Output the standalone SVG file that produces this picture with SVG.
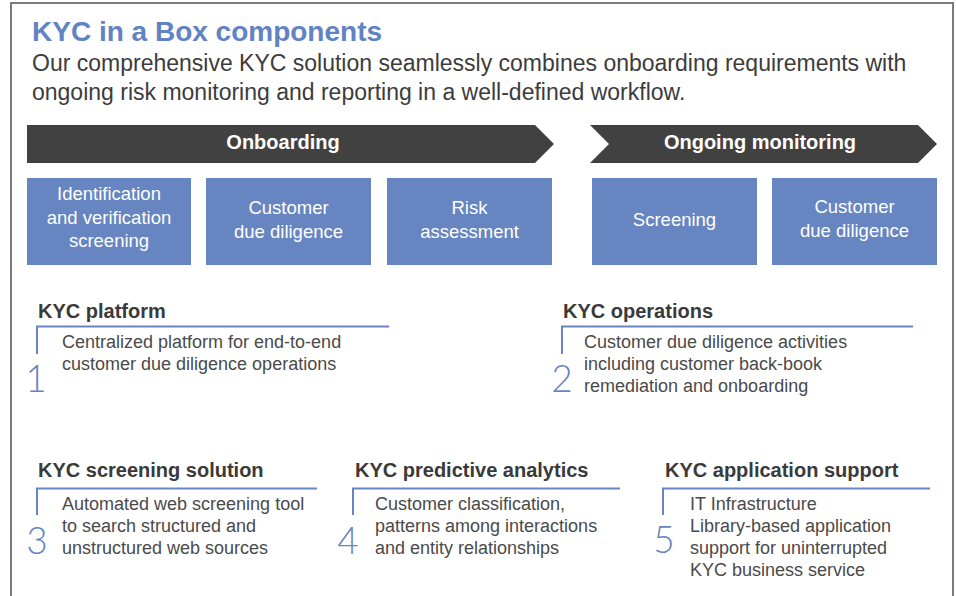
<svg xmlns="http://www.w3.org/2000/svg" width="956" height="596" viewBox="0 0 956 596">
<style>
text{font-family:"Liberation Sans",Arial,Helvetica,sans-serif}
.title{font-size:28px;font-weight:bold;fill:#6283c3}
.sub{font-size:23px;fill:#3c3c3c}
.chev{fill:#414141}
.chevt{font-size:20px;font-weight:bold;fill:#ffffff;text-anchor:middle}
.box{fill:#6685c1}
.boxt{font-size:18.5px;fill:#ffffff;text-anchor:middle}
.head{font-size:20px;font-weight:bold;fill:#3a3a3a}
.body{font-size:18px;fill:#4a4a4a}
.num{font-family:Lato,"Liberation Sans",Arial,sans-serif;font-weight:300;font-size:37px;fill:#6685c1;text-anchor:middle}
.br{fill:none;stroke:#6685c1;stroke-width:2}
</style>
<rect x="11" y="3" width="942" height="620" fill="#ffffff" stroke="#7a7a7a" stroke-width="2"/>
<g id="header">
<text class="title" x="32" y="41">KYC in a Box components</text>
<text class="sub" x="32" y="71">Our comprehensive KYC solution seamlessly combines onboarding requirements with</text>
<text class="sub" x="32" y="100">ongoing risk monitoring and reporting in a well-defined workflow.</text>
</g>
<g id="onboarding">
<polygon class="chev" points="27,125 535,125 554,144 535,163 27,163"/>
<text class="chevt" x="283" y="149">Onboarding</text>
</g>
<g id="ongoing-monitoring">
<polygon class="chev" points="590,125 918,125 937,144 918,163 590,163 609,144"/>
<text class="chevt" x="760" y="149">Ongoing monitoring</text>
</g>
<g id="box-identification">
<rect class="box" x="27" y="178" width="164" height="87"/>
<text class="boxt" x="109" y="200">Identification</text>
<text class="boxt" x="109" y="224">and verification</text>
<text class="boxt" x="109" y="247">screening</text>
</g>
<g id="box-cdd-onboarding">
<rect class="box" x="206" y="178" width="165" height="87"/>
<text class="boxt" x="288.5" y="214">Customer</text>
<text class="boxt" x="288.5" y="238">due diligence</text>
</g>
<g id="box-risk">
<rect class="box" x="387" y="178" width="165" height="87"/>
<text class="boxt" x="469.5" y="214">Risk</text>
<text class="boxt" x="469.5" y="238">assessment</text>
</g>
<g id="box-screening">
<rect class="box" x="592" y="178" width="165" height="87"/>
<text class="boxt" x="674.5" y="226">Screening</text>
</g>
<g id="box-cdd-monitoring">
<rect class="box" x="772" y="178" width="165" height="87"/>
<text class="boxt" x="854.5" y="213">Customer</text>
<text class="boxt" x="854.5" y="237">due diligence</text>
</g>
<g id="connectors"></g>
<g id="kyc-platform">
<text class="head" x="38" y="318">KYC platform</text>
<polyline class="br" points="37,354 37,326.5 389,326.5"/>
<text class="body" x="62" y="348">Centralized platform for end-to-end</text>
<text class="body" x="62" y="370">customer due diligence operations</text>
<text class="num" x="36" y="392">1</text>
</g>
<g id="kyc-operations">
<text class="head" x="563" y="318">KYC operations</text>
<polyline class="br" points="562,354 562,326.5 913,326.5"/>
<text class="body" x="584" y="348">Customer due diligence activities</text>
<text class="body" x="584" y="370">including customer back-book</text>
<text class="body" x="584" y="392">remediation and onboarding</text>
<text class="num" x="562" y="392">2</text>
</g>
<g id="kyc-screening-solution">
<text class="head" x="38" y="477">KYC screening solution</text>
<polyline class="br" points="37,515 37,488.5 317,488.5"/>
<text class="body" x="62" y="510">Automated web screening tool</text>
<text class="body" x="62" y="532">to search structured and</text>
<text class="body" x="62" y="554">unstructured web sources</text>
<text class="num" x="37" y="554">3</text>
</g>
<g id="kyc-predictive-analytics">
<text class="head" x="355" y="477">KYC predictive analytics</text>
<polyline class="br" points="353,515 353,488.5 620,488.5"/>
<text class="body" x="375" y="510">Customer classification,</text>
<text class="body" x="375" y="532">patterns among interactions</text>
<text class="body" x="375" y="554">and entity relationships</text>
<text class="num" x="348" y="554">4</text>
</g>
<g id="kyc-application-support">
<text class="head" x="665" y="477">KYC application support</text>
<polyline class="br" points="663,515 663,488.5 930,488.5"/>
<text class="body" x="690" y="510">IT Infrastructure</text>
<text class="body" x="690" y="532">Library-based application</text>
<text class="body" x="690" y="554">support for uninterrupted</text>
<text class="body" x="690" y="576">KYC business service</text>
<text class="num" x="664" y="553">5</text>
</g>
</svg>
